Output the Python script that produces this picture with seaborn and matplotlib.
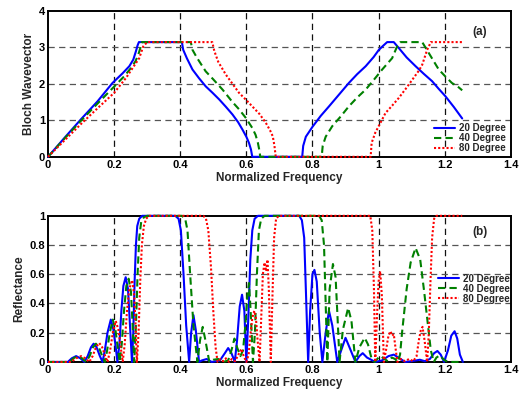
import matplotlib
matplotlib.use("Agg")
import matplotlib.pyplot as plt
import seaborn as sns
import numpy as np

# ---------------- data: panel (a) Bloch wavevector ----------------
fa_20 = [0, 0.05, 0.1, 0.15, 0.195, 0.225, 0.246, 0.258, 0.266, 0.271, 0.275, 0.405, 0.409, 0.42, 0.437,
         0.457, 0.477, 0.498, 0.518, 0.538, 0.558, 0.575, 0.588, 0.6, 0.608, 0.614, 0.618, 0.769, 0.772,
         0.78, 0.80, 0.825, 0.85, 0.88, 0.91, 0.935, 0.961, 0.985, 1.001, 1.015, 1.026, 1.046, 1.061,
         1.085, 1.112, 1.137, 1.162, 1.182, 1.202, 1.228, 1.253]
ka_20 = [0, 0.52, 1.03, 1.52, 2.02, 2.28, 2.48, 2.66, 2.89, 3.05, 3.14, 3.14, 2.93, 2.7, 2.39,
         2.15, 1.93, 1.75, 1.57, 1.37, 1.16, 0.95, 0.75, 0.55, 0.38, 0.2, 0, 0, 0.3,
         0.55, 0.82, 1.12, 1.38, 1.70, 2.02, 2.26, 2.48, 2.73, 2.93, 3.05, 3.14, 3.14, 2.98,
         2.72, 2.48, 2.27, 2.07, 1.86, 1.66, 1.36, 1.05]

fa_40 = [0, 0.05, 0.1, 0.15, 0.2, 0.23, 0.25, 0.265, 0.275, 0.28, 0.284, 0.432, 0.437, 0.45, 0.477,
         0.5, 0.528, 0.558, 0.578, 0.598, 0.618, 0.628, 0.635, 0.64, 0.642, 0.828, 0.831, 0.84, 0.86,
         0.885, 0.91, 0.935, 0.961, 0.985, 1.011, 1.041, 1.056, 1.066, 1.132, 1.152, 1.182, 1.202,
         1.222, 1.24, 1.253]
ka_40 = [0, 0.5, 0.99, 1.46, 1.92, 2.2, 2.42, 2.62, 2.85, 3.0, 3.14, 3.14, 2.93, 2.72, 2.34,
         2.12, 1.84, 1.5, 1.3, 1.07, 0.79, 0.6, 0.38, 0.15, 0, 0, 0.3, 0.55, 0.84,
         1.1, 1.38, 1.62, 1.84, 2.1, 2.39, 2.7, 3.02, 3.14, 3.14, 2.84, 2.39, 2.2,
         2.02, 1.92, 1.82]

fa_80 = [0, 0.05, 0.1, 0.15, 0.2, 0.236, 0.256, 0.276, 0.288, 0.296, 0.3, 0.497, 0.503, 0.515, 0.538,
         0.558, 0.578, 0.598, 0.618, 0.64, 0.659, 0.672, 0.68, 0.685, 0.689, 0.976, 0.979, 0.99,
         1.001, 1.021, 1.041, 1.061, 1.082, 1.102, 1.122, 1.132, 1.147, 1.155, 1.158, 1.253]
ka_80 = [0, 0.45, 0.9, 1.33, 1.75, 2.16, 2.43, 2.7, 3.02, 3.1, 3.14, 3.14, 2.9, 2.6, 2.25,
         2.0, 1.75, 1.57, 1.38, 1.17, 0.93, 0.72, 0.56, 0.3, 0, 0, 0.38, 0.66,
         0.85, 1.2, 1.4, 1.61, 1.86, 2.11, 2.36, 2.52, 2.93, 3.08, 3.14, 3.14]

# ---------------- data: panel (b) Reflectance ----------------
fb_20 = [0, 0.06, 0.072, 0.085, 0.098, 0.11, 0.12, 0.13, 0.138, 0.147, 0.157, 0.165, 0.172, 0.18, 0.19,
         0.198, 0.205, 0.21, 0.216, 0.222, 0.228, 0.235, 0.242, 0.248, 0.254, 0.258, 0.262, 0.266,
         0.27, 0.276, 0.285, 0.385, 0.395, 0.402, 0.41, 0.418, 0.427, 0.433, 0.44, 0.447, 0.457, 0.465,
         0.48, 0.495, 0.52, 0.535, 0.545, 0.555, 0.565, 0.572, 0.58, 0.587, 0.594, 0.6, 0.606, 0.612,
         0.618, 0.625, 0.635, 0.76, 0.768, 0.775, 0.78, 0.787, 0.793, 0.8, 0.806, 0.813, 0.822, 0.83,
         0.84, 0.85, 0.86, 0.875, 0.89, 0.9, 0.912, 0.93, 0.942, 0.952, 0.965, 0.99, 1.01, 1.03, 1.046,
         1.06, 1.08, 1.1, 1.125, 1.14, 1.155, 1.168, 1.178, 1.188, 1.198, 1.21, 1.22, 1.23, 1.238,
         1.246, 1.255]
rb_20 = [0, 0, 0.025, 0.04, 0.025, 0, 0.04, 0.1, 0.125, 0.1, 0.04, 0, 0.08, 0.2, 0.29,
         0.22, 0.1, 0, 0.12, 0.35, 0.52, 0.58, 0.5, 0.25, 0, 0.2, 0.55, 0.8,
         0.93, 0.98, 1.0, 1.0, 0.98, 0.9, 0.6, 0.25, 0, 0.2, 0.32, 0.22, 0, 0.01,
         0.02, 0.0, 0.01, 0.06, 0.095, 0.06, 0, 0.15, 0.38, 0.46, 0.35, 0, 0.3, 0.7,
         0.9, 0.98, 1.0, 1.0, 0.97, 0.85, 0.5, 0, 0.35, 0.6, 0.63, 0.55, 0.2, 0,
         0.2, 0.35, 0.25, 0, 0.1, 0.165, 0.1, 0, 0.04, 0.06, 0.03, 0, 0.01, 0.04, 0.05,
         0.03, 0, 0.005, 0.015, 0.005, 0.02, 0.06, 0.075, 0.05, 0, 0.08, 0.18, 0.21, 0.16,
         0.05, 0]

fb_40 = [0, 0.065, 0.077, 0.09, 0.103, 0.115, 0.126, 0.136, 0.145, 0.154, 0.164, 0.172, 0.179, 0.187,
         0.196, 0.204, 0.211, 0.217, 0.223, 0.23, 0.237, 0.244, 0.251, 0.256, 0.261, 0.266, 0.271,
         0.276, 0.282, 0.29, 0.3, 0.405, 0.415, 0.422, 0.43, 0.44, 0.452, 0.46, 0.468, 0.476, 0.488,
         0.5, 0.515, 0.53, 0.545, 0.555, 0.564, 0.572, 0.582, 0.59, 0.597, 0.603, 0.608, 0.613, 0.62,
         0.626, 0.632, 0.638, 0.645, 0.655, 0.82, 0.828, 0.835, 0.84, 0.845, 0.852, 0.862, 0.87, 0.876,
         0.882, 0.892, 0.908, 0.918, 0.93, 0.942, 0.958, 0.968, 0.978, 0.988, 1.0, 1.006, 1.018, 1.028,
         1.04, 1.05, 1.058, 1.065, 1.071, 1.085, 1.097, 1.112, 1.126, 1.138, 1.147, 1.158, 1.167, 1.175,
         1.185, 1.2, 1.215, 1.255]
rb_40 = [0, 0, 0.025, 0.04, 0.025, 0, 0.04, 0.1, 0.125, 0.1, 0.04, 0, 0.08, 0.2,
         0.29, 0.22, 0.1, 0, 0.12, 0.35, 0.52, 0.57, 0.48, 0.25, 0, 0.25, 0.6,
         0.85, 0.96, 0.99, 1.0, 1.0, 0.98, 0.9, 0.6, 0.25, 0, 0.15, 0.24, 0.15, 0,
         0.015, 0.02, 0.0, 0.01, 0.08, 0.16, 0.1, 0.04, 0.08, 0.25, 0.45, 0.54, 0.35, 0,
         0.2, 0.6, 0.9, 0.98, 1.0, 1.0, 0.97, 0.8, 0.4, 0, 0.5, 0.67, 0.58, 0.3,
         0, 0.22, 0.37, 0.28, 0, 0.1, 0.165, 0.12, 0.03, 0, 0.03, 0.04, 0.02, 0.005,
         0.03, 0.02, 0, 0.05, 0.2, 0.5, 0.68, 0.78, 0.7, 0.48, 0.3, 0.08, 0, 0.03,
         0.045, 0.01, 0, 0]

fb_80 = [0, 0.07, 0.085, 0.1, 0.113, 0.125, 0.135, 0.145, 0.155, 0.164, 0.173, 0.18, 0.188, 0.196,
         0.205, 0.213, 0.22, 0.226, 0.232, 0.239, 0.246, 0.255, 0.261, 0.265, 0.269, 0.274, 0.279,
         0.284, 0.29, 0.297, 0.305, 0.47, 0.478, 0.485, 0.493, 0.5, 0.507, 0.513, 0.522, 0.53, 0.538,
         0.548, 0.556, 0.566, 0.576, 0.585, 0.592, 0.6, 0.607, 0.612, 0.618, 0.624, 0.629, 0.634, 0.64,
         0.645, 0.65, 0.655, 0.66, 0.664, 0.668, 0.674, 0.679, 0.684, 0.69, 0.698, 0.975, 0.981, 0.986,
         0.99, 0.995, 1.0, 1.005, 1.01, 1.016, 1.024, 1.03, 1.036, 1.041, 1.046, 1.051, 1.057, 1.068,
         1.08, 1.092, 1.105, 1.115, 1.122, 1.128, 1.133, 1.139, 1.147, 1.152, 1.157, 1.162, 1.168,
         1.175, 1.253]
rb_80 = [0, 0, 0.025, 0.04, 0.025, 0, 0.04, 0.1, 0.13, 0.1, 0.04, 0, 0.08, 0.2,
         0.28, 0.22, 0.1, 0, 0.12, 0.35, 0.5, 0.56, 0.45, 0.25, 0, 0.2, 0.55,
         0.8, 0.93, 0.98, 1.0, 1.0, 0.98, 0.9, 0.65, 0.35, 0.1, 0, 0.02, 0.005, 0.025,
         0.0, 0.02, 0.005, 0.05, 0.09, 0.04, 0, 0.05, 0.18, 0.3, 0.35, 0.3, 0.15, 0,
         0.3, 0.6, 0.68, 0.62, 0.7, 0.5, 0, 0.45, 0.85, 0.98, 1.0, 1.0, 0.9, 0.5,
         0, 0.3, 0.55, 0.62, 0.45, 0, 0.1, 0.18, 0.21, 0.18, 0.19, 0.1, 0, 0.02,
         0.005, 0.02, 0.005, 0.04, 0.15, 0.22, 0.24, 0.15, 0, 0.2, 0.55, 0.85, 0.98,
         1.0, 1.0]

series_labels = ["20 Degree", "40 Degree", "80 Degree"]
x_ticks = [0, 0.2, 0.4, 0.6, 0.8, 1.0, 1.2, 1.4]
x_ticklabels = ["0", "0.2", "0.4", "0.6", "0.8", "1", "1.2", "1.4"]
ya_ticks = [0, 1, 2, 3, 4]
ya_ticklabels = ["0", "1", "2", "3", "4"]
yb_ticks = [0, 0.2, 0.4, 0.6, 0.8, 1.0]
yb_ticklabels = ["0", "0.2", "0.4", "0.6", "0.8", "1"]

# ---------------- styling ----------------
sns.set_style("white")
plt.rcParams['font.family'] = ['Liberation Sans', 'DejaVu Sans']
plt.rcParams['font.weight'] = 'bold'

colors = ['#0000ff', '#008000', '#ff0000']
styles = ['-', (0, (3.5, 2.0)), (0, (1.0, 1.0))]

fig = plt.figure(figsize=(5.2, 3.96), dpi=100)
ax_a = fig.add_axes([0.0923, 0.604, 0.890, 0.369])
ax_b = fig.add_axes([0.0923, 0.086, 0.890, 0.369])

def draw(ax, xs, ys):
    for x, y, c, ls, lab in zip(xs, ys, colors, styles, series_labels):
        sns.lineplot(x=x, y=y, ax=ax, color=c, linestyle=ls, linewidth=1.5,
                     label=lab, estimator=None, sort=False, clip_on=False, zorder=3)

draw(ax_a, [fa_20, fa_40, fa_80], [ka_20, ka_40, ka_80])
draw(ax_b, [fb_20, fb_40, fb_80], [rb_20, rb_40, rb_80])

def style_axes(ax, yticks, yticklabels, ylim, ylabel):
    ax.set_xlim(0, 1.4)
    ax.set_ylim(*ylim)
    ax.set_xticks(x_ticks)
    ax.set_xticklabels(x_ticklabels, fontsize=8, fontweight='bold')
    ax.set_yticks(yticks)
    ax.set_yticklabels(yticklabels, fontsize=8, fontweight='bold')
    for v in x_ticks[1:-1]:
        ax.axvline(v, color='#111111', lw=0.9, ls=(0, (5, 3.5)), zorder=0)
    for v in yticks[1:-1]:
        ax.axhline(v, color='#555555', lw=0.9, ls=(0, (5, 3.5)), zorder=0)
    ax.tick_params(direction='in', length=3, width=1, pad=2, colors='black')
    for s in ax.spines.values():
        s.set_color('black')
        s.set_linewidth(1.4)
        s.set_zorder(2.5)
    ax.set_xlabel("Normalized Frequency", fontsize=8.5, fontweight='bold', labelpad=2)
    ax.set_ylabel(ylabel, fontsize=8.5, fontweight='bold', labelpad=3)

style_axes(ax_a, ya_ticks, ya_ticklabels, (0, 4), "Bloch Wavevector")
style_axes(ax_b, yb_ticks, yb_ticklabels, (0, 1), "Reflectance")

ax_a.legend(loc='lower right', bbox_to_anchor=(1.0, -0.01), frameon=False,
            prop={'size': 7, 'weight': 'bold'}, handlelength=2.1, handletextpad=0.4,
            labelspacing=0.0, borderaxespad=0.15)
ax_b.legend(loc='center right', bbox_to_anchor=(1.01, 0.5), frameon=False,
            prop={'size': 7, 'weight': 'bold'}, handlelength=2.1, handletextpad=0.4,
            labelspacing=0.0, borderaxespad=0.2)

ax_a.text(0.933, 0.855, "(a)", transform=ax_a.transAxes, fontsize=8.5, fontweight='bold',
          ha='center', va='center')
ax_b.text(0.933, 0.89, "(b)", transform=ax_b.transAxes, fontsize=8.5, fontweight='bold',
          ha='center', va='center')

fig.savefig("out.png", dpi=100)
